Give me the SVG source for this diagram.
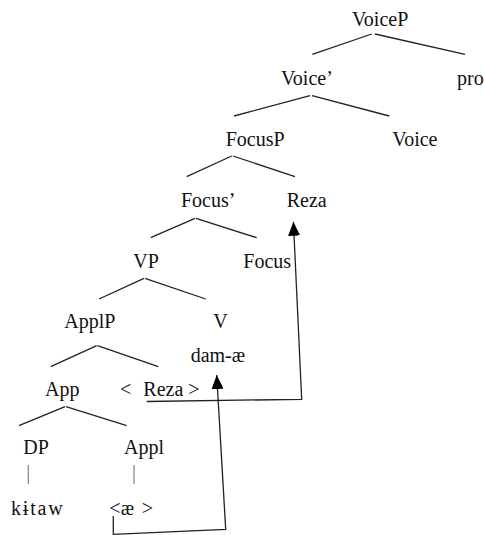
<svg xmlns="http://www.w3.org/2000/svg" width="484" height="535" viewBox="0 0 484 535">
<style>
text{font-family:"Liberation Serif","DejaVu Serif",serif;font-size:20px;fill:#111}
.e{stroke:#222;stroke-width:1.3;fill:none}
.v{stroke:#8a8aa8;stroke-width:1.3;fill:none}
.m{stroke:#222;stroke-width:1.3;fill:none;marker-end:url(#ah)}
</style>
<defs>
<marker id="ah" markerUnits="userSpaceOnUse" markerWidth="14" markerHeight="12" refX="14" refY="6" orient="auto" viewBox="0 0 14 12">
<path d="M0,0 L14,6 L0,12 z" fill="#000"/>
</marker>
</defs>
<rect width="484" height="535" fill="#fff"/>
<g id="connectors">
<line class="e" x1="371.7" y1="34" x2="312.3" y2="54.3"/>
<line class="e" x1="375" y1="34" x2="465" y2="54.3"/>
<line class="e" x1="310" y1="95.7" x2="234" y2="116"/>
<line class="e" x1="312" y1="95.7" x2="389.3" y2="116"/>
<line class="e" x1="231.7" y1="156" x2="186.7" y2="176.7"/>
<line class="e" x1="233" y1="156" x2="295" y2="176.7"/>
<line class="e" x1="195" y1="218.3" x2="150.7" y2="237.7"/>
<line class="e" x1="196" y1="218.3" x2="256.7" y2="237.7"/>
<line class="e" x1="144" y1="278.3" x2="99" y2="299"/>
<line class="e" x1="145" y1="278.3" x2="205.7" y2="299"/>
<line class="e" x1="96.7" y1="345.7" x2="50.7" y2="366.7"/>
<line class="e" x1="97.5" y1="345.7" x2="158.3" y2="366.7"/>
<line class="e" x1="65" y1="406.7" x2="19" y2="425.7"/>
<line class="e" x1="66" y1="406.7" x2="126.7" y2="425.7"/>
<line class="v" x1="28.3" y1="465" x2="28.3" y2="484"/>
<line class="v" x1="134" y1="465" x2="134" y2="484"/>
<path class="m" d="M146.7,401.5 L301.7,399.3 L293.4,221.7"/>
<path class="m" d="M113.3,516 L113.3,534.3 L225.7,529.3 L216.7,375"/>
</g>
<g id="n-voicep"><text x="352" y="25.5">VoiceP</text></g>
<g id="n-voicebar"><text x="281" y="85">Voice’</text></g>
<g id="n-pro"><text x="457" y="85">pro</text></g>
<g id="n-focusp"><text x="225.7" y="146">FocusP</text></g>
<g id="n-voice"><text x="392.3" y="146">Voice</text></g>
<g id="n-focusbar"><text x="181" y="206.5">Focus’</text></g>
<g id="n-reza"><text x="286.7" y="206.5">Reza</text></g>
<g id="n-vp"><text x="133.3" y="267.7">VP</text></g>
<g id="n-focus"><text x="243.3" y="267.7">Focus</text></g>
<g id="n-applp"><text x="64.3" y="327.7">ApplP</text></g>
<g id="n-v"><text x="213.3" y="327.7">V</text><text x="190.7" y="361.5">dam-æ</text></g>
<g id="n-app"><text x="45" y="396">App</text></g>
<g id="n-reza-copy"><text y="396"><tspan x="120">&lt;</tspan><tspan x="143.3">Reza</tspan><tspan x="188.3">&gt;</tspan></text></g>
<g id="n-dp"><text x="23.3" y="454.3">DP</text></g>
<g id="n-appl"><text x="124" y="454.3">Appl</text></g>
<g id="n-kitaw"><text x="11" y="515" textLength="51.7">kɨtaw</text></g>
<g id="n-ae"><text y="515"><tspan x="109.3">&lt;</tspan><tspan x="120.7">æ</tspan><tspan x="141.7">&gt;</tspan></text></g>
</svg>
